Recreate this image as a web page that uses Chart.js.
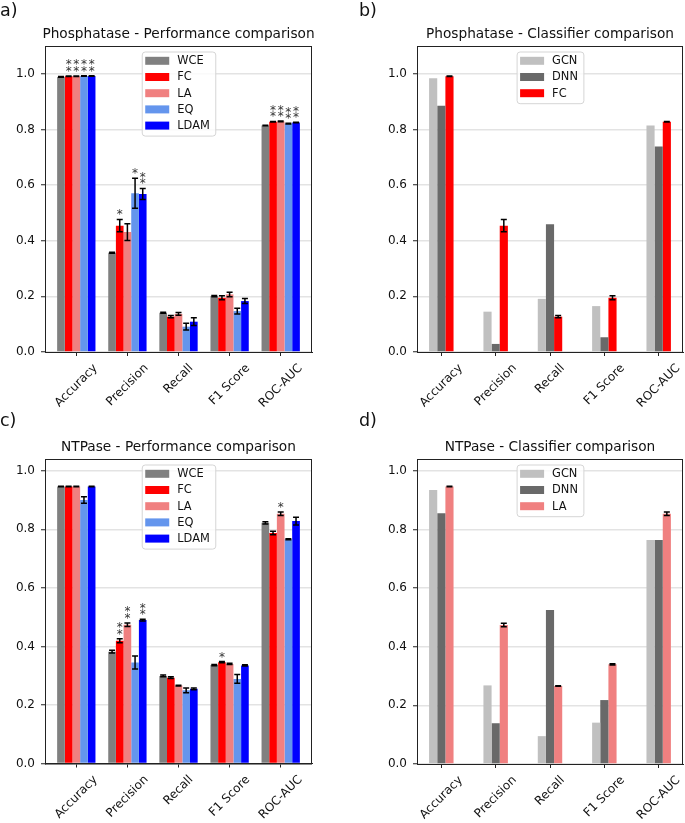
<!DOCTYPE html>
<html>
<head>
<meta charset="utf-8">
<script src="https://cdn.jsdelivr.net/npm/chart.js@4.4.1/dist/chart.umd.min.js"></script>
<style>
  body { margin: 0; background: #fff; }
  #fig { position: relative; width: 685px; height: 823px; }
  canvas { position: absolute; }
</style>
</head>
<body>
<div id="fig">
  <canvas id="pa" width="342" height="410" style="left:0;top:0"></canvas>
  <canvas id="pb" width="343" height="410" style="left:342px;top:0"></canvas>
  <canvas id="pc" width="342" height="413" style="left:0;top:410px"></canvas>
  <canvas id="pd" width="343" height="413" style="left:342px;top:410px"></canvas>
</div>
<script>
const metrics = ["Accuracy", "Precision", "Recall", "F1 Score", "ROC-AUC"];
const yTicks = [0, 0.2, 0.4, 0.6, 0.8, 1.0];

// Phosphatase - loss functions
const phWCE = [0.989, 0.357, 0.141, 0.201, 0.814];
const phWCEErr = [0.001, 0.002, 0.002, 0.002, 0.001];
const phFC = [0.991, 0.454, 0.127, 0.195, 0.828];
const phFCErr = [0.001, 0.022, 0.004, 0.007, 0.001];
const phLA = [0.991, 0.431, 0.137, 0.207, 0.829];
const phLAErr = [0.001, 0.03, 0.005, 0.008, 0.001];
const phEQ = [0.992, 0.571, 0.091, 0.147, 0.821];
const phEQErr = [0.001, 0.054, 0.012, 0.01, 0.001];
const phLDAM = [0.992, 0.568, 0.109, 0.183, 0.825];
const phLDAMErr = [0.001, 0.02, 0.014, 0.009, 0.001];
const phFCStars = [2, 1, 0, 0, 2];
const phLAStars = [2, 0, 0, 0, 2];
const phEQStars = [2, 1, 0, 0, 2];
const phLDAMStars = [2, 2, 0, 0, 2];

// Phosphatase - classifiers
const phGCN = [0.984, 0.145, 0.191, 0.165, 0.814];
const phDNN = [0.885, 0.029, 0.459, 0.053, 0.739];

// NTPase - loss functions
const ntWCE = [0.946, 0.382, 0.299, 0.336, 0.822];
const ntWCEErr = [0.001, 0.005, 0.003, 0.002, 0.004];
const ntFC = [0.946, 0.419, 0.293, 0.346, 0.787];
const ntFCErr = [0.001, 0.007, 0.003, 0.002, 0.006];
const ntLA = [0.946, 0.474, 0.266, 0.34, 0.853];
const ntLAErr = [0.001, 0.006, 0.001, 0.002, 0.006];
const ntEQ = [0.9, 0.345, 0.25, 0.289, 0.766];
const ntEQErr = [0.011, 0.022, 0.008, 0.015, 0.002];
const ntLDAM = [0.946, 0.49, 0.255, 0.335, 0.828];
const ntLDAMErr = [0.001, 0.003, 0.003, 0.002, 0.013];
const ntFCStars = [0, 2, 0, 1, 0];
const ntLAStars = [0, 2, 0, 0, 1];
const ntLDAMStars = [0, 2, 0, 0, 0];

// NTPase - classifiers
const ntGCN = [0.934, 0.268, 0.095, 0.141, 0.764];
const ntDNN = [0.855, 0.139, 0.525, 0.218, 0.764];

const FONT = "'DejaVu Sans', sans-serif";
const TICK_FS = 12;
Chart.defaults.font.family = FONT;
Chart.defaults.font.size = TICK_FS;
Chart.defaults.color = "#111";

const BAR_W = 0.15;

const figPlugin = {
  id: "fig",
  afterDatasetsDraw(chart, args, opts) {
    const ctx = chart.ctx;
    const ys = chart.scales.y;
    ctx.save();
    chart.data.datasets.forEach((ds, di) => {
      const meta = chart.getDatasetMeta(di);
      meta.data.forEach((bar, i) => {
        const v = ds.data[i].y;
        const e = ds.err ? ds.err[i] : 0;
        if (ds.err) {
          const y1 = ys.getPixelForValue(v - e), y2 = ys.getPixelForValue(v + e);
          ctx.strokeStyle = "#000";
          ctx.lineWidth = 1.5;
          ctx.beginPath();
          ctx.moveTo(bar.x, y1); ctx.lineTo(bar.x, y2);
          ctx.moveTo(bar.x - 3, y1); ctx.lineTo(bar.x + 3, y1);
          ctx.moveTo(bar.x - 3, y2); ctx.lineTo(bar.x + 3, y2);
          ctx.stroke();
        }
        const n = ds.stars ? ds.stars[i] : 0;
        if (n) {
          const top = ys.getPixelForValue(v + e);
          ctx.fillStyle = "#333";
          ctx.font = "12px " + FONT;
          ctx.textAlign = "center";
          ctx.textBaseline = "alphabetic";
          for (let k = 0; k < n; k++) {
            const cy = top - 8 - k * 6.5;
            ctx.fillText("*", bar.x, cy + 6.9);
          }
        }
      });
    });
    ctx.restore();
  },
  afterDraw(chart, args, opts) {
    const ctx = chart.ctx;
    const a = chart.chartArea;
    const xs = chart.scales.x;
    const mid = (a.left + a.right) / 2;
    ctx.save();
    // frame
    ctx.strokeStyle = "#222";
    ctx.lineWidth = 1;
    ctx.strokeRect(a.left + 0.5, a.top + 0.5, a.right - a.left - 1, a.bottom - a.top);
    // panel letter and title
    ctx.fillStyle = "#111";
    ctx.textAlign = "left";
    ctx.textBaseline = "alphabetic";
    ctx.font = "17.5px " + FONT;
    ctx.fillText(opts.letter, opts.letterX, 16);
    ctx.textAlign = "center";
    ctx.font = "13.7px " + FONT;
    ctx.fillText(opts.title, mid, a.top - 8);
    // rotated category labels
    ctx.font = TICK_FS + "px " + FONT;
    metrics.forEach((m, i) => {
      const cx = xs.getPixelForValue(i);
      const w = ctx.measureText(m).width;
      const d = (w + TICK_FS) * Math.SQRT1_2;
      ctx.save();
      ctx.translate(cx, a.bottom + 10 + d / 2);
      ctx.rotate(-Math.PI / 4);
      ctx.textAlign = "center";
      ctx.textBaseline = "middle";
      ctx.fillText(m, 0, 0);
      ctx.restore();
    });
    // legend
    ctx.font = "11.4px " + FONT;
    const dss = chart.data.datasets;
    let maxW = 0;
    dss.forEach((ds) => { maxW = Math.max(maxW, ctx.measureText(ds.label).width); });
    const bw = 35.5 + maxW + 5.5;
    const bh = 9.3 + (dss.length - 1) * 16.2 + 10;
    const bx = mid - bw / 2, by = a.top + 5.5;
    ctx.fillStyle = "rgba(255,255,255,0.8)";
    ctx.strokeStyle = "#d5d5d5";
    ctx.lineWidth = 1;
    ctx.beginPath();
    ctx.roundRect(bx + 0.5, by + 0.5, bw, bh, 3);
    ctx.fill();
    ctx.stroke();
    ctx.textAlign = "left";
    ctx.textBaseline = "middle";
    dss.forEach((ds, i) => {
      const ry = by + 9.3 + i * 16.2;
      ctx.fillStyle = ds.backgroundColor;
      ctx.fillRect(bx + 3.5, ry - 4, 24, 8);
      ctx.fillStyle = "#111";
      ctx.fillText(ds.label, bx + 35.5, ry + 0.5);
    });
    ctx.restore();
  },
};

function makePanel(id, p) {
  const canvas = document.getElementById(id);
  const W = canvas.width, H = canvas.height;
  const n = p.series.length;
  const half = (n * BAR_W) / 2;
  const margin = 0.05 * (metrics.length - 1 + 2 * half);
  return new Chart(canvas, {
    type: "bar",
    data: {
      datasets: p.series.map((s) => ({
        label: s.label,
        data: s.values.map((v, i) => ({ x: i, y: v })),
        err: s.err,
        stars: s.stars,
        backgroundColor: s.color,
        borderWidth: 0,
        categoryPercentage: n * BAR_W,
        barPercentage: 1,
      })),
    },
    options: {
      responsive: false,
      animation: false,
      devicePixelRatio: 1,
      layout: { padding: { left: 0, top: p.top, right: W - p.right, bottom: 0 } },
      scales: {
        x: {
          type: "linear",
          min: -half - margin,
          max: metrics.length - 1 + half + margin,
          offset: false,
          afterBuildTicks: (s) => { s.ticks = metrics.map((m, i) => ({ value: i })); },
          afterFit: (s) => { s.height = H - p.bottom; },
          ticks: { display: false },
          grid: { display: true, offset: false, drawOnChartArea: false, drawTicks: true, tickLength: 4, tickColor: "#222", tickWidth: 1 },
          border: { display: true, color: "#222", width: 1 },
        },
        y: {
          min: 0,
          max: p.ymax,
          afterBuildTicks: (s) => { s.ticks = yTicks.map((v) => ({ value: v })); },
          afterFit: (s) => { s.width = p.left; },
          ticks: { padding: 6, color: "#111", font: { size: TICK_FS }, callback: (v) => Number(v).toFixed(1) },
          grid: { color: "#e3e3e3", lineWidth: 1.5, tickLength: 4, tickColor: "#222", tickWidth: 1 },
          border: { display: true, color: "#222", width: 1 },
        },
      },
      plugins: {
        legend: { display: false },
        tooltip: { enabled: false },
        fig: { letter: p.letter, letterX: p.letterX, title: p.title },
      },
    },
    plugins: [figPlugin],
  });
}

const GRAY = "#808080", RED = "#ff0000", CORAL = "#f08080", CORN = "#6495ed", BLUE = "#0000ff";
const SILVER = "#c0c0c0", DIM = "#696969";

makePanel("pa", {
  letter: "a)", letterX: 0, title: "Phosphatase - Performance comparison",
  left: 45, right: 312, top: 46, bottom: 352, ymax: 1.1,
  series: [
    { label: "WCE", values: phWCE, err: phWCEErr, color: GRAY },
    { label: "FC", values: phFC, err: phFCErr, color: RED, stars: phFCStars },
    { label: "LA", values: phLA, err: phLAErr, color: CORAL, stars: phLAStars },
    { label: "EQ", values: phEQ, err: phEQErr, color: CORN, stars: phEQStars },
    { label: "LDAM", values: phLDAM, err: phLDAMErr, color: BLUE, stars: phLDAMStars },
  ],
});

makePanel("pb", {
  letter: "b)", letterX: 17, title: "Phosphatase - Classifier comparison",
  left: 75, right: 341, top: 46, bottom: 352, ymax: 1.1,
  series: [
    { label: "GCN", values: phGCN, color: SILVER },
    { label: "DNN", values: phDNN, color: DIM },
    { label: "FC", values: phFC, err: phFCErr, color: RED },
  ],
});

makePanel("pc", {
  letter: "c)", letterX: 0, title: "NTPase - Performance comparison",
  left: 45, right: 312, top: 49, bottom: 353.5, ymax: 1.04,
  series: [
    { label: "WCE", values: ntWCE, err: ntWCEErr, color: GRAY },
    { label: "FC", values: ntFC, err: ntFCErr, color: RED, stars: ntFCStars },
    { label: "LA", values: ntLA, err: ntLAErr, color: CORAL, stars: ntLAStars },
    { label: "EQ", values: ntEQ, err: ntEQErr, color: CORN },
    { label: "LDAM", values: ntLDAM, err: ntLDAMErr, color: BLUE, stars: ntLDAMStars },
  ],
});

makePanel("pd", {
  letter: "d)", letterX: 17, title: "NTPase - Classifier comparison",
  left: 75, right: 341, top: 49, bottom: 354, ymax: 1.04,
  series: [
    { label: "GCN", values: ntGCN, color: SILVER },
    { label: "DNN", values: ntDNN, color: DIM },
    { label: "LA", values: ntLA, err: ntLAErr, color: CORAL },
  ],
});
</script>
</body>
</html>
